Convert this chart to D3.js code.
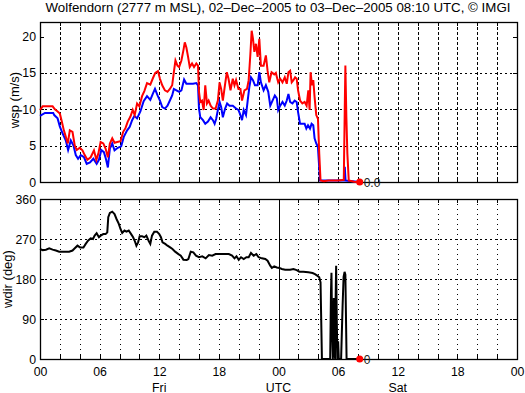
<!DOCTYPE html>
<html><head><meta charset="utf-8">
<script src="https://cdn.jsdelivr.net/npm/d3@7"></script>
<style>
body{margin:0;background:#fff;}
svg{display:block;font-family:"Liberation Sans",Arial,Helvetica,sans-serif;}
</style></head>
<body>
<script>
// ---- data ----
const titleText = "Wolfendorn (2777 m MSL), 02\u2013Dec\u20132005 to 03\u2013Dec\u20132005 08:10 UTC, \u00a9 IMGI";
const hourTickLabels = ["00","06","12","18","00","06","12","18","00"];
const hourTickValues = [0,6,12,18,24,30,36,42,48];
const dayLabels = [{h:12,t:"Fri"},{h:24,t:"UTC"},{h:36,t:"Sat"}];
const wspTicks = [0,5,10,15,20];
const wdirTicks = [0,90,180,270,360];
const endHour = 32.17;
const lastWsp = 0.0, lastWdir = 0;

// gust (red) [hour, m/s]
const gustData = [
[0,9.9],[0.27,10.4],[1.27,10.4],[1.5,10.0],[1.77,9.7],[2.0,9.4],[2.2,8.3],[2.4,7.1],[2.6,6.2],[2.8,5.3],
[3.0,7.1],[3.27,6.9],[3.5,5.0],[3.7,4.4],[4.0,4.7],[4.27,4.35],[4.5,3.7],[4.77,3.05],[5.1,3.4],[5.43,4.35],
[5.67,3.05],[5.87,3.9],[6.1,5.5],[6.37,5.3],[6.6,4.6],[6.83,3.4],[7.03,5.3],[7.27,6.0],[7.5,5.4],[7.77,5.5],
[8.1,5.6],[8.37,6.9],[8.6,7.4],[8.83,8.3],[9.1,9.0],[9.33,9.9],[9.53,9.2],[9.77,10.8],[10.0,10.4],[10.27,11.8],
[10.5,12.5],[10.77,13.6],[11.1,13.4],[11.37,14.3],[11.6,15.0],[11.87,15.25],[12.07,14.2],[12.3,13.3],[12.57,12.6],[12.83,12.4],
[13.07,12.8],[13.3,13.3],[13.47,15.1],[13.63,16.7],[13.83,16.0],[14.0,15.8],[14.23,16.7],[14.43,18.1],[14.57,19.2],[14.73,18.5],
[14.9,17.2],[15.07,15.8],[15.3,16.3],[15.5,15.8],[15.73,16.3],[15.9,16.0],[16.0,12.4],[16.13,11.0],[16.3,11.2],[16.47,9.9],
[16.63,13.3],[16.8,10.8],[16.97,11.2],[17.17,10.5],[17.4,10.1],[17.67,10.1],[17.9,11.2],[18.07,13.7],[18.23,12.8],[18.4,11.2],
[18.63,13.5],[18.8,15.1],[18.97,14.2],[19.17,12.6],[19.4,14.2],[19.57,13.3],[19.73,14.0],[19.97,12.8],[20.17,12.8],[20.33,11.2],
[20.57,12.6],[20.83,12.8],[21.0,14.0],[21.17,17.6],[21.3,20.8],[21.43,19.7],[21.57,17.9],[21.73,19.0],[21.9,17.2],[22.07,19.7],
[22.23,16.0],[22.5,16.0],[22.73,17.4],[22.9,15.3],[23.07,13.7],[23.3,15.1],[23.57,14.8],[23.73,15.0],[23.97,13.7],[24.17,14.2],
[24.4,13.7],[24.63,14.4],[24.83,13.5],[25.0,15.1],[25.17,15.3],[25.33,13.7],[25.5,14.0],[25.67,14.4],[25.83,14.2],[25.97,12.6],
[26.17,11.2],[26.4,10.8],[26.63,11.0],[26.83,10.5],[27.0,12.6],[27.13,9.9],[27.23,15.1],[27.37,13.3],[27.5,14.0],[27.63,11.7],
[27.8,9.2],[27.97,8.7],[28.1,3.9],[28.23,0.2],[28.57,0.1],[29.0,0.2],[29.5,0.2],[30.0,0.2],[30.57,0.3],[30.67,10.3],
[30.73,16.0],[30.83,8.9],[30.93,3.9],[31.07,0.2],[31.6,0.05],[32.17,0]
];
// mean (blue) [hour, m/s]
const meanData = [
[0,9.1],[0.5,9.5],[1.33,9.5],[1.43,9.2],[1.77,8.75],[2.0,7.6],[2.27,6.7],[2.6,5.7],[2.83,4.4],[3.1,5.7],
[3.37,5.0],[3.6,3.7],[3.83,3.2],[4.1,3.7],[4.43,3.4],[4.7,2.5],[5.03,2.7],[5.37,3.2],[5.7,2.5],[5.93,3.05],
[6.17,4.4],[6.43,4.1],[6.63,3.2],[6.83,2.0],[7.03,4.6],[7.27,5.3],[7.5,4.35],[7.83,4.7],[8.17,4.9],[8.43,6.2],
[8.77,7.1],[9.03,7.6],[9.27,8.5],[9.5,9.1],[9.77,8.75],[10.1,9.7],[10.43,11.1],[10.77,11.8],[11.1,11.3],[11.37,12.2],
[11.57,12.8],[11.83,11.9],[12.07,11.2],[12.3,10.3],[12.57,10.1],[12.83,10.5],[13.07,11.2],[13.3,11.9],[13.47,12.8],[13.73,12.6],
[14.0,12.4],[14.23,12.6],[14.5,14.1],[14.73,13.5],[15.07,13.5],[15.4,13.5],[15.73,13.6],[15.9,13.3],[16.0,10.1],[16.13,8.9],
[16.4,8.5],[16.63,8.0],[16.9,8.3],[17.17,8.9],[17.4,8.5],[17.57,8.0],[17.73,8.7],[17.9,9.9],[18.07,11.0],[18.23,10.3],
[18.4,8.9],[18.63,10.1],[18.83,10.8],[19.07,10.5],[19.4,10.5],[19.73,10.1],[19.97,9.9],[20.17,9.2],[20.33,8.5],[20.5,9.9],
[20.73,9.2],[20.9,11.2],[21.07,13.1],[21.23,14.4],[21.43,14.0],[21.63,13.3],[21.9,13.3],[22.07,15.1],[22.23,13.7],[22.5,12.6],
[22.73,13.3],[22.97,12.4],[23.17,10.5],[23.4,11.2],[23.63,11.9],[23.83,11.5],[23.97,9.9],[24.17,10.5],[24.4,11.0],[24.63,10.5],
[24.83,11.2],[25.0,12.1],[25.17,11.0],[25.4,10.8],[25.63,11.2],[25.83,11.0],[25.97,9.6],[26.17,8.0],[26.4,8.0],[26.63,8.0],
[26.8,7.35],[26.97,7.8],[27.17,7.35],[27.33,8.0],[27.5,7.8],[27.63,6.0],[27.8,5.3],[27.97,4.8],[28.07,2.6],[28.17,0.2],
[30.6,0.2],[30.67,2.1],[30.75,0.2],[32.17,0]
];
// wind direction [hour, deg]
const dirData = [
[0,247.5],[0.27,245],[0.6,246],[0.93,249],[1.27,246],[1.6,244],[1.93,241.5],[2.43,241.5],[2.93,241.5],[3.27,244],
[3.5,249],[3.77,255],[4.03,251],[4.37,251],[4.6,259],[4.83,266],[5.1,271.5],[5.33,270],[5.5,277.5],[5.7,283],
[5.93,274],[6.1,277.5],[6.37,281],[6.6,281],[6.77,285],[6.87,319],[7.03,328.5],[7.27,331.5],[7.5,326],[7.7,315],
[7.93,304],[8.1,292.5],[8.27,283.5],[8.5,289],[8.7,286.5],[8.93,289],[9.17,281],[9.37,274],[9.53,266],[9.7,255],
[9.87,262.5],[10.03,276],[10.27,276],[10.5,274],[10.7,277.5],[10.93,266],[11.1,259],[11.27,277.5],[11.5,286.5],[11.77,286.5],
[12.0,281],[12.17,274],[12.33,262.5],[12.6,259],[12.83,255],[13.1,251],[13.33,247.5],[13.6,241.5],[13.93,236],[14.17,232.5],
[14.43,223.5],[14.77,223],[14.93,225],[15.17,241.5],[15.43,240],[15.7,232.5],[16.0,229],[16.33,231],[16.67,226.5],[17.0,234],
[17.33,232.5],[17.67,236],[18.0,236],[18.5,236],[19.0,236],[19.33,232.5],[19.57,226.5],[19.77,231],[20.0,223],[20.23,229],
[20.5,225],[20.77,229],[21.0,229],[21.23,238.5],[21.5,232.5],[21.77,236],[22.0,229],[22.33,226.5],[22.67,225],[22.9,221],
[23.17,210],[23.33,205],[23.57,208.5],[23.83,206],[24.1,205],[24.33,202.5],[24.67,201],[25.17,201],[25.5,202.5],[25.83,200],
[26.1,196.5],[26.5,196.5],[27.0,195],[27.43,193.5],[27.67,191],[27.9,187.5],[28.1,184],[28.23,172.5],[28.37,0],[29.2,0],
[29.28,150],[29.33,194],[29.4,60],[29.47,0],[29.52,30],[29.57,137],[29.63,20],[29.7,0],[29.74,120],[29.8,210],
[29.87,80],[29.93,0],[30.0,40],[30.07,0],[30.3,0],[30.45,120],[30.55,185],[30.65,196],[30.73,190],[30.85,0],
[32.17,0]
];

// ---- layout ----
const W = 525, H = 393;
const L = 40, R = 517;
const top1 = 22, bot1 = 182, top2 = 199, bot2 = 359;

const svg = d3.select("body").append("svg").attr("width", W).attr("height", H);

const x = d3.scaleLinear().domain([0, 48]).range([L, R]);
const yW = d3.scaleLinear().domain([0, 22]).range([bot1, top1]);
const yD = d3.scaleLinear().domain([0, 360]).range([bot2, top2]);

svg.append("text").attr("x", 278).attr("y", 11.5).attr("text-anchor", "middle")
  .attr("font-size", 13.3).text(titleText);

function panel(y, top, bot, ticks, vDash, hDash) {
  const g = svg.append("g");
  const minor = d3.range(0, 49, 2);
  // vertical grid
  g.selectAll(".vg").data(minor.filter(d => d > 0 && d < 48 && d !== 24)).enter().append("line")
    .attr("x1", d => Math.round(x(d)) + 0.5).attr("x2", d => Math.round(x(d)) + 0.5)
    .attr("y1", top).attr("y2", bot)
    .attr("stroke", "#000").attr("stroke-width", 1).attr("stroke-dasharray", vDash);
  // horizontal grid
  g.selectAll(".hg").data(ticks.slice(1, -1)).enter().append("line")
    .attr("x1", L).attr("x2", R)
    .attr("y1", d => Math.round(y(d)) + 0.5).attr("y2", d => Math.round(y(d)) + 0.5)
    .attr("stroke", "#000").attr("stroke-width", 1).attr("stroke-dasharray", hDash);
  // midnight solid line
  g.append("line").attr("x1", Math.round(x(24)) + 0.5).attr("x2", Math.round(x(24)) + 0.5)
    .attr("y1", top).attr("y2", bot).attr("stroke", "#000").attr("stroke-width", 1);
  // inward ticks
  const tk = g.append("g");
  minor.forEach(d => {
    const xx = Math.round(x(d)) + 0.5;
    tk.append("line").attr("x1", xx).attr("x2", xx).attr("y1", top).attr("y2", top + 4).attr("stroke", "#000");
    tk.append("line").attr("x1", xx).attr("x2", xx).attr("y1", bot).attr("y2", bot - 4).attr("stroke", "#000");
  });
  ticks.forEach(d => {
    const yy = Math.round(y(d)) + 0.5;
    tk.append("line").attr("x1", L).attr("x2", L + 4).attr("y1", yy).attr("y2", yy).attr("stroke", "#000");
    tk.append("line").attr("x1", R).attr("x2", R - 4).attr("y1", yy).attr("y2", yy).attr("stroke", "#000");
  });
  // frame
  g.append("rect").attr("x", L + 0.5).attr("y", top + 0.5).attr("width", R - L).attr("height", bot - top)
    .attr("fill", "none").attr("stroke", "#000").attr("stroke-width", 1.3);
  // y labels
  g.selectAll(".yl").data(ticks).enter().append("text")
    .attr("x", 36).attr("y", d => y(d) + 4.5).attr("text-anchor", "end")
    .attr("font-size", 12.3).text(d => d);
}

panel(yW, top1, bot1, wspTicks, "3,2", "2,3");
panel(yD, top2, bot2, wdirTicks, "1,4", "2,3");

// axis labels
svg.append("text").attr("transform", `translate(19,${(top1 + bot1) / 2 - 2}) rotate(-90)`)
  .attr("text-anchor", "middle").attr("font-size", 13).text("wsp (m/s)");
svg.append("text").attr("transform", `translate(11.5,${(top2 + bot2) / 2}) rotate(-90)`)
  .attr("text-anchor", "middle").attr("font-size", 13).text("wdir (deg)");

// x tick labels
svg.selectAll(".xl").data(hourTickValues).enter().append("text")
  .attr("x", d => x(d) + 0.5).attr("y", 376).attr("text-anchor", "middle")
  .attr("font-size", 12.3).text((d, i) => hourTickLabels[i]);
svg.selectAll(".dl").data(dayLabels).enter().append("text")
  .attr("x", d => x(d.h)).attr("y", 391.5).attr("text-anchor", "middle")
  .attr("font-size", 12.3).text(d => d.t);

// lines
const lineW = d3.line().x(d => x(d[0])).y(d => yW(d[1]));
const lineD = d3.line().x(d => x(d[0])).y(d => yD(d[1]));
svg.append("path").attr("d", lineW(meanData)).attr("fill", "none").attr("stroke", "#0000ff")
  .attr("stroke-width", 2).attr("stroke-linejoin", "miter");
svg.append("path").attr("d", lineW(gustData)).attr("fill", "none").attr("stroke", "#ff0000")
  .attr("stroke-width", 2).attr("stroke-linejoin", "miter");
svg.append("path").attr("d", lineD(dirData)).attr("fill", "none").attr("stroke", "#000")
  .attr("stroke-width", 2).attr("stroke-linejoin", "miter");

// end markers
svg.append("circle").attr("cx", x(endHour)).attr("cy", yW(lastWsp)).attr("r", 3.5).attr("fill", "#ff0000");
svg.append("text").attr("x", x(endHour) + 4).attr("y", yW(lastWsp) + 4.5).attr("font-size", 12)
  .attr("fill", "#222").text(lastWsp.toFixed(1));
svg.append("circle").attr("cx", x(endHour)).attr("cy", yD(lastWdir)).attr("r", 3.5).attr("fill", "#ff0000");
svg.append("text").attr("x", x(endHour) + 4).attr("y", yD(lastWdir) + 4.5).attr("font-size", 12)
  .attr("fill", "#222").text(lastWdir);
</script>
</body></html>
